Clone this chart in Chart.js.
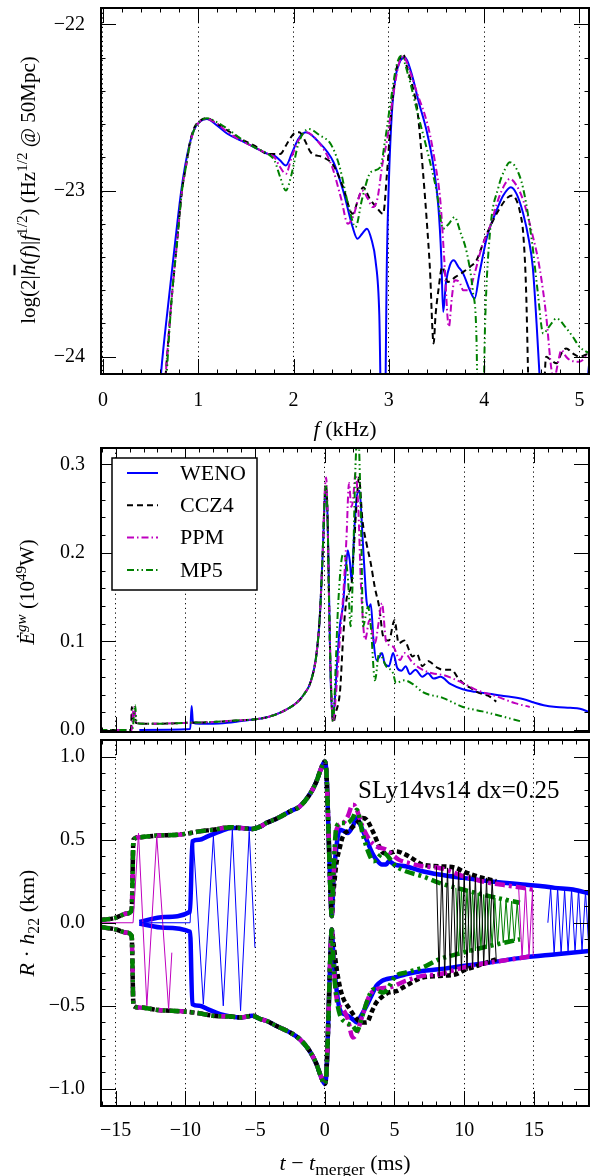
<!DOCTYPE html>
<html>
<head>
<meta charset="utf-8">
<script src="https://cdn.jsdelivr.net/npm/chart.js@4.4.1/dist/chart.umd.min.js"></script>
<style>
body { margin: 0; background: #fff; }
#wrap { position: relative; width: 590px; height: 1176px; font-family: "Liberation Serif", serif; color: #000; overflow: hidden; }
#wrap canvas { position: absolute; left: 0; }
.ttl { position: absolute; white-space: nowrap; font-size: 21px; line-height: 1; }
.rot { transform: translate(-50%, -50%) rotate(-90deg); }
.hor { transform: translate(-50%, -50%); }
sup, sub { font-size: 72%; line-height: 0; }
</style>
</head>
<body>
<div id="wrap">
  <canvas id="spec" width="590" height="440" style="top:0"></canvas>
  <canvas id="lum" width="590" height="296" style="top:440px"></canvas>
  <canvas id="strain" width="590" height="440" style="top:736px"></canvas>

  <div class="ttl rot" style="left:28px; top:190px">log(2|<span style="text-decoration:overline"><i>h</i></span>(<i>f</i>)|<i>f</i><sup>1/2</sup>) (Hz<sup>1/2</sup> @ 50Mpc)</div>
  <div class="ttl hor" style="left:345px; top:429px; font-size:22px"><i>f</i> (kHz)</div>
  <div class="ttl rot" style="left:27px; top:592px"><i>Ė</i><sup><i>gw</i></sup> (10<sup>49</sup>W)</div>
  <div class="ttl rot" style="left:27px; top:923px; font-size:22px"><i>R</i> · <i>h</i><sub>22</sub> (km)</div>
  <div class="ttl hor" style="left:345px; top:1163px; font-size:22px"><i>t</i> − <i>t</i><sub style="font-size:80%">merger</sub> (ms)</div>
  <div class="ttl" style="left:358px; top:777px; font-size:25px">SLy14vs14 dx=0.25</div>
</div>
<script>
// ---- tick values ----
const specTicksX = [0, 1, 2, 3, 4, 5];
const specTicksY = [-24, -23, -22];
const timeTicks = [-15, -10, -5, 0, 5, 10, 15];
const lumTicksY = [0, 0.1, 0.2, 0.3];
const strainTicksY = [-1, -0.5, 0, 0.5, 1];
const runNames = ['WENO', 'CCZ4', 'PPM', 'MP5'];

// ---- spectrum: [f (kHz), log amplitude] ----
const specWeno = [[0.55,-24.6],[0.61,-24.1],[0.69,-23.66],[0.76,-23.3],[0.82,-23.01],[0.86,-22.86],[0.91,-22.72],[0.96,-22.63],[1.02,-22.585],[1.09,-22.57],[1.2,-22.61],[1.31,-22.66],[1.45,-22.7],[1.59,-22.74],[1.73,-22.78],[1.8,-22.79],[1.86,-22.82],[1.92,-22.85],[1.98,-22.78],[2.05,-22.69],[2.13,-22.65],[2.25,-22.7],[2.42,-22.83],[2.52,-23.0],[2.62,-23.22],[2.67,-23.29],[2.72,-23.26],[2.77,-23.23],[2.82,-23.3],[2.86,-23.42],[2.9,-23.75],[2.925,-24.5],[2.955,-24.5],[2.98,-23.4],[3.0,-22.95],[3.03,-22.55],[3.07,-22.32],[3.12,-22.22],[3.17,-22.2],[3.24,-22.3],[3.31,-22.46],[3.4,-22.65],[3.47,-22.86],[3.52,-23.1],[3.55,-23.4],[3.57,-23.73],[3.6,-23.55],[3.64,-23.45],[3.68,-23.42],[3.73,-23.46],[3.78,-23.5],[3.85,-23.6],[3.9,-23.65],[3.95,-23.5],[4.03,-23.28],[4.13,-23.12],[4.2,-23.03],[4.28,-22.98],[4.34,-23.02],[4.41,-23.14],[4.47,-23.3],[4.51,-23.46],[4.55,-23.8],[4.58,-24.1],[4.62,-24.6],[5.0,-24.6],[5.06,-24.3],[5.1,-24.05]];
const specCcz4 = [[0.6,-24.6],[0.66,-24.1],[0.72,-23.66],[0.78,-23.3],[0.83,-23.0],[0.87,-22.86],[0.91,-22.72],[0.96,-22.62],[1.02,-22.58],[1.09,-22.565],[1.2,-22.6],[1.31,-22.64],[1.45,-22.69],[1.59,-22.73],[1.73,-22.78],[1.8,-22.78],[1.86,-22.78],[1.93,-22.72],[2.0,-22.66],[2.06,-22.65],[2.12,-22.7],[2.18,-22.77],[2.31,-22.8],[2.42,-22.85],[2.52,-22.98],[2.62,-23.14],[2.68,-23.05],[2.73,-22.98],[2.8,-23.05],[2.87,-23.1],[2.94,-23.14],[2.98,-22.9],[3.03,-22.5],[3.08,-22.27],[3.12,-22.2],[3.15,-22.18],[3.2,-22.28],[3.26,-22.4],[3.3,-22.52],[3.36,-22.9],[3.4,-23.2],[3.43,-23.46],[3.47,-23.92],[3.49,-23.75],[3.52,-23.6],[3.56,-23.46],[3.62,-23.55],[3.7,-23.52],[3.78,-23.49],[3.85,-23.46],[3.92,-23.42],[4.0,-23.3],[4.06,-23.22],[4.15,-23.12],[4.25,-23.04],[4.3,-23.03],[4.34,-23.06],[4.38,-23.14],[4.41,-23.26],[4.44,-23.6],[4.46,-24.08],[4.48,-24.6],[4.6,-24.6],[4.65,-24.0],[4.7,-24.02],[4.76,-24.04],[4.81,-23.98],[4.86,-23.95],[4.93,-23.98],[5.0,-24.0],[5.1,-23.98]];
const specPpm = [[0.6,-24.6],[0.66,-24.1],[0.72,-23.66],[0.78,-23.3],[0.83,-23.0],[0.87,-22.86],[0.91,-22.73],[0.96,-22.63],[1.02,-22.585],[1.09,-22.57],[1.2,-22.6],[1.31,-22.65],[1.45,-22.7],[1.59,-22.74],[1.73,-22.78],[1.8,-22.8],[1.86,-22.86],[1.92,-22.9],[1.98,-22.8],[2.05,-22.7],[2.13,-22.65],[2.25,-22.7],[2.4,-22.85],[2.5,-23.05],[2.57,-23.2],[2.63,-23.15],[2.68,-23.05],[2.72,-23.0],[2.78,-23.05],[2.83,-23.1],[2.88,-23.05],[2.93,-22.85],[2.98,-22.7],[3.04,-22.45],[3.1,-22.25],[3.15,-22.19],[3.22,-22.28],[3.3,-22.42],[3.38,-22.55],[3.43,-22.66],[3.49,-22.85],[3.54,-23.06],[3.58,-23.4],[3.63,-23.82],[3.66,-23.65],[3.69,-23.54],[3.74,-23.55],[3.78,-23.6],[3.84,-23.6],[3.9,-23.5],[3.97,-23.35],[4.06,-23.22],[4.15,-23.05],[4.22,-22.96],[4.27,-22.93],[4.34,-22.97],[4.41,-23.06],[4.5,-23.25],[4.58,-23.46],[4.65,-23.75],[4.7,-24.05],[4.73,-24.15],[4.77,-24.05],[4.81,-23.96],[4.86,-24.0],[4.9,-24.02],[5.0,-24.03],[5.1,-23.98]];
const specMp5 = [[0.62,-24.6],[0.67,-24.1],[0.72,-23.66],[0.78,-23.3],[0.83,-23.0],[0.87,-22.86],[0.91,-22.73],[0.96,-22.63],[1.02,-22.585],[1.09,-22.565],[1.2,-22.59],[1.31,-22.63],[1.45,-22.69],[1.59,-22.74],[1.73,-22.78],[1.8,-22.82],[1.86,-22.92],[1.92,-23.0],[1.98,-22.9],[2.05,-22.72],[2.16,-22.63],[2.28,-22.67],[2.39,-22.72],[2.48,-22.85],[2.58,-23.1],[2.65,-23.22],[2.72,-23.05],[2.81,-22.89],[2.91,-22.86],[2.96,-22.7],[3.02,-22.46],[3.08,-22.25],[3.13,-22.19],[3.2,-22.3],[3.3,-22.53],[3.42,-22.8],[3.5,-23.0],[3.57,-23.23],[3.63,-23.2],[3.69,-23.16],[3.75,-23.25],[3.82,-23.38],[3.88,-23.6],[3.92,-23.9],[3.94,-24.6],[3.98,-24.6],[4.01,-23.8],[4.06,-23.26],[4.15,-22.98],[4.22,-22.87],[4.27,-22.83],[4.34,-22.87],[4.41,-22.99],[4.5,-23.3],[4.56,-23.6],[4.62,-23.86],[4.68,-23.82],[4.76,-23.77],[4.85,-23.82],[4.93,-23.88],[5.0,-23.94],[5.1,-23.98]];

// ---- luminosity: [t (ms), 1e49 W] ----
const lumWeno = [[-13.3,0.0],[-9.65,0.001],[-9.55,0.027],[-9.45,0.008],[-9.0,0.007],[-8,0.007],[-7,0.008],[-6,0.01],[-5,0.012],[-4,0.015],[-3,0.021],[-2,0.031],[-1.5,0.04],[-1.0,0.055],[-0.6,0.085],[-0.35,0.13],[-0.15,0.2],[0.0,0.26],[0.1,0.27],[0.2,0.24],[0.3,0.16],[0.4,0.07],[0.55,0.012],[0.7,0.03],[0.9,0.08],[1.1,0.12],[1.3,0.14],[1.5,0.18],[1.65,0.203],[1.8,0.19],[1.93,0.168],[2.1,0.22],[2.3,0.264],[2.5,0.27],[2.7,0.22],[2.86,0.177],[3.0,0.145],[3.15,0.138],[3.3,0.142],[3.5,0.1],[3.7,0.079],[3.9,0.082],[4.1,0.087],[4.3,0.075],[4.6,0.072],[4.9,0.087],[5.2,0.07],[5.5,0.067],[5.8,0.072],[6.1,0.063],[6.5,0.068],[7.0,0.06],[7.4,0.064],[7.8,0.058],[8.3,0.06],[9.0,0.052],[9.9,0.046],[10.8,0.043],[11.8,0.041],[13.0,0.038],[14.2,0.035],[15.0,0.031],[15.7,0.028],[16.6,0.026],[17.6,0.025],[18.3,0.024],[19.0,0.02]];
const lumCcz4 = [[-16.1,0.0],[-13.9,0.0],[-13.84,0.026],[-13.75,0.012],[-13.65,0.02],[-13.55,0.008],[-13,0.007],[-12,0.007],[-10,0.008],[-8,0.009],[-6,0.011],[-5,0.012],[-4,0.015],[-3,0.021],[-2,0.031],[-1.5,0.04],[-1.0,0.055],[-0.6,0.085],[-0.35,0.13],[-0.15,0.2],[0.0,0.265],[0.1,0.275],[0.2,0.24],[0.3,0.15],[0.45,0.05],[0.6,0.008],[0.8,0.02],[1.1,0.045],[1.3,0.1],[1.5,0.14],[1.65,0.154],[1.9,0.162],[2.1,0.21],[2.3,0.26],[2.45,0.285],[2.7,0.237],[3.0,0.21],[3.3,0.188],[3.6,0.16],[3.9,0.139],[4.2,0.105],[4.6,0.101],[5.0,0.124],[5.3,0.098],[5.7,0.101],[6.3,0.083],[6.6,0.086],[7.0,0.072],[7.4,0.078],[7.7,0.075],[8.1,0.07],[8.5,0.068],[9.1,0.068],[9.5,0.06],[9.9,0.053],[10.4,0.048],[10.9,0.043],[11.4,0.04],[11.8,0.038],[12.3,0.032]];
const lumPpm = [[-16.1,0.0],[-13.85,0.0],[-13.75,0.02],[-13.65,0.026],[-13.55,0.008],[-13,0.007],[-12,0.007],[-10,0.008],[-8,0.009],[-6,0.011],[-5,0.012],[-4,0.015],[-3,0.021],[-2,0.031],[-1.5,0.04],[-1.0,0.055],[-0.6,0.085],[-0.35,0.13],[-0.15,0.2],[0.0,0.27],[0.1,0.285],[0.2,0.24],[0.3,0.15],[0.45,0.05],[0.6,0.01],[0.8,0.04],[1.07,0.1],[1.3,0.147],[1.55,0.215],[1.74,0.279],[1.9,0.252],[2.03,0.26],[2.2,0.29],[2.4,0.252],[2.6,0.162],[2.9,0.102],[3.2,0.124],[3.6,0.098],[3.85,0.12],[4.1,0.143],[4.4,0.1],[4.9,0.094],[5.4,0.079],[5.7,0.087],[6.3,0.076],[7.0,0.068],[7.7,0.064],[8.5,0.062],[9.2,0.058],[9.9,0.053],[10.9,0.045],[12.3,0.038],[13.7,0.03],[14.7,0.026]];
const lumMp5 = [[-16.1,0.0],[-13.8,0.0],[-13.6,0.028],[-13.5,0.008],[-13,0.007],[-12,0.007],[-10,0.008],[-8,0.009],[-6,0.011],[-5,0.012],[-4,0.015],[-3,0.021],[-2,0.031],[-1.5,0.04],[-1.0,0.055],[-0.6,0.085],[-0.35,0.13],[-0.15,0.2],[0.0,0.265],[0.1,0.275],[0.2,0.24],[0.3,0.15],[0.45,0.05],[0.6,0.01],[0.8,0.08],[0.95,0.139],[1.3,0.198],[1.45,0.196],[1.67,0.169],[1.85,0.117],[2.0,0.169],[2.2,0.297],[2.38,0.34],[2.6,0.233],[2.75,0.117],[2.95,0.13],[3.1,0.139],[3.3,0.117],[3.6,0.056],[3.9,0.087],[4.4,0.072],[4.9,0.064],[5.1,0.053],[5.7,0.056],[6.4,0.051],[7.0,0.043],[8.5,0.036],[9.9,0.026],[11.3,0.021],[12.8,0.015],[14.0,0.01]];

// ---- strain R*h22: [t (ms), km]; thick = amplitude envelope, thin = real part ----
const strainInspiralUp = [[-16.1,0.015],[-15,0.03],[-14.2,0.055],[-13.85,0.075],[-13.72,0.5],[-13.3,0.515],[-12,0.525],[-10.5,0.53],[-10,0.535],[-9,0.55],[-8,0.56],[-6.7,0.575],[-6,0.57],[-5.2,0.565],[-4.6,0.58],[-4.2,0.6],[-3.5,0.625],[-2.5,0.67],[-1.8,0.7],[-1.1,0.77],[-0.6,0.85],[-0.3,0.92],[0.0,0.97],[0.12,0.9],[0.25,0.6],[0.4,0.2],[0.5,0.04]];
const strainInspiralLow = [[-16.1,-0.025],[-15,-0.04],[-14.2,-0.06],[-13.85,-0.08],[-13.72,-0.5],[-13.3,-0.51],[-12,-0.525],[-10,-0.535],[-9,-0.545],[-8,-0.56],[-6.7,-0.565],[-6,-0.57],[-5.2,-0.56],[-4.6,-0.58],[-4.2,-0.59],[-3.5,-0.62],[-2.5,-0.66],[-1.8,-0.7],[-1.1,-0.77],[-0.6,-0.85],[-0.3,-0.92],[0.0,-0.97],[0.12,-0.9],[0.25,-0.6],[0.4,-0.2],[0.5,-0.04]];
const strainWenoUp = [[-13.3,0.005],[-11.5,0.035],[-9.66,0.066],[-9.5,0.49],[-9.0,0.5],[-8.4,0.52],[-7.5,0.55],[-6.7,0.57],[-6.0,0.57],[-5.2,0.565],[-4.6,0.58],[-4.2,0.6],[-3.5,0.625],[-2.5,0.67],[-1.8,0.7],[-1.1,0.77],[-0.6,0.85],[-0.3,0.92],[0.0,0.97],[0.12,0.9],[0.25,0.6],[0.4,0.2],[0.5,0.04],[0.62,0.25],[0.84,0.46],[1.07,0.56],[1.4,0.55],[1.65,0.54],[2.0,0.58],[2.3,0.63],[2.6,0.58],[3.0,0.5],[3.4,0.42],[3.7,0.38],[4.1,0.35],[4.4,0.35],[4.6,0.37],[5.0,0.35],[5.8,0.34],[7.0,0.31],[8.2,0.29],[9.9,0.27],[11.8,0.25],[14.2,0.23],[15.6,0.22],[16.5,0.21],[17.8,0.2],[19.0,0.175]];
const strainWenoLow = [[-13.3,-0.005],[-11.5,-0.03],[-9.66,-0.054],[-9.5,-0.49],[-9.0,-0.5],[-8.4,-0.52],[-7.5,-0.55],[-6.7,-0.565],[-6.0,-0.57],[-5.2,-0.56],[-4.6,-0.58],[-4.2,-0.59],[-3.5,-0.62],[-2.5,-0.66],[-1.8,-0.7],[-1.1,-0.77],[-0.6,-0.85],[-0.3,-0.92],[0.0,-0.97],[0.12,-0.9],[0.25,-0.6],[0.4,-0.2],[0.5,-0.04],[0.62,-0.2],[0.84,-0.4],[1.07,-0.52],[1.4,-0.55],[1.65,-0.56],[2.0,-0.58],[2.3,-0.6],[2.6,-0.56],[3.0,-0.5],[3.4,-0.43],[3.7,-0.38],[4.1,-0.35],[4.4,-0.34],[5.0,-0.33],[5.8,-0.31],[7.0,-0.29],[8.2,-0.28],[9.9,-0.26],[11.8,-0.24],[14.2,-0.21],[16.6,-0.19],[19.0,-0.17]];
const strainWenoRe = [[-13.3,0.0],[-9.66,0.0],[-9.43,0.5],[-8.71,-0.49],[-7.99,0.52],[-7.28,-0.5],[-6.63,0.56],[-6.04,-0.53],[-5.42,0.55],[-5.01,-0.15],[10,null],[16.0,0.0],[16.2,0.21],[16.45,-0.19],[16.7,0.21],[16.95,-0.19],[17.2,0.2],[17.45,-0.18],[17.7,0.2],[17.95,-0.18],[18.2,0.2],[18.45,-0.17],[18.7,0.19],[18.95,-0.17]];
const strainCcz4TailUp = [[0.62,0.18],[0.84,0.36],[1.07,0.45],[1.3,0.52],[1.8,0.56],[2.3,0.6],[2.7,0.63],[3.0,0.62],[3.5,0.54],[3.9,0.46],[4.2,0.42],[4.6,0.42],[5.1,0.43],[5.8,0.41],[6.4,0.38],[7.0,0.35],[8.2,0.34],[9.4,0.33],[9.9,0.31],[10.9,0.28],[12.3,0.25]];
const strainCcz4TailLow = [[0.62,-0.12],[0.84,-0.27],[1.07,-0.38],[1.3,-0.45],[1.8,-0.52],[2.3,-0.58],[2.7,-0.6],[3.0,-0.6],[3.4,-0.53],[3.7,-0.48],[4.2,-0.44],[4.6,-0.42],[5.2,-0.41],[5.8,-0.38],[7.0,-0.33],[8.2,-0.32],[9.4,-0.31],[9.9,-0.29],[10.9,-0.26],[12.3,-0.22]];
const strainCcz4Re = [[8.0,0.34],[8.2,-0.32],[8.4,0.34],[8.6,-0.32],[8.8,0.33],[9.0,-0.31],[9.2,0.33],[9.4,-0.3],[9.6,0.32],[9.8,-0.29],[10.0,0.3],[10.2,-0.29],[10.4,0.29],[10.6,-0.28],[10.8,0.28],[11.0,-0.27],[11.2,0.27],[11.4,-0.26],[11.6,0.27],[11.8,-0.25],[12.0,0.26],[12.3,-0.23]];
const strainPpmTailUp = [[0.62,0.25],[0.84,0.56],[1.3,0.6],[1.65,0.64],[2.0,0.71],[2.2,0.7],[2.7,0.58],[3.2,0.5],[3.7,0.46],[4.4,0.44],[5.3,0.38],[6.0,0.36],[7.0,0.34],[8.2,0.33],[9.0,0.31],[9.9,0.28],[10.8,0.26],[11.8,0.24],[13.0,0.225],[14.2,0.21],[14.9,0.2]];
const strainPpmTailLow = [[0.62,-0.22],[0.84,-0.45],[1.3,-0.52],[1.65,-0.58],[2.0,-0.69],[2.2,-0.68],[2.7,-0.56],[3.2,-0.44],[3.7,-0.4],[4.6,-0.39],[5.8,-0.35],[7.0,-0.32],[8.2,-0.31],[9.9,-0.27],[11.8,-0.24],[14.2,-0.21],[14.9,-0.2]];
const strainPpmRe = [[-16.1,0.0],[-13.75,0.0],[-13.36,0.54],[-12.76,-0.5],[-12.05,0.52],[-11.2,-0.52],[-10.97,-0.18],[0,null],[13.9,0.22],[14.15,-0.21],[14.4,0.21],[14.65,-0.2],[14.9,0.2],[14.95,-0.2]];
const strainMp5TailUp = [[0.62,0.3],[0.84,0.58],[1.2,0.6],[1.6,0.6],[2.0,0.63],[2.3,0.68],[2.7,0.54],[3.1,0.43],[3.5,0.37],[4.2,0.42],[5.1,0.34],[5.8,0.31],[7.0,0.28],[8.2,0.24],[9.9,0.2],[11.8,0.16],[14.0,0.12]];
const strainMp5TailLow = [[0.62,-0.25],[0.84,-0.45],[1.07,-0.55],[1.5,-0.6],[2.0,-0.62],[2.3,-0.65],[2.7,-0.56],[3.0,-0.48],[3.5,-0.4],[4.2,-0.42],[5.1,-0.32],[5.8,-0.3],[7.0,-0.27],[8.2,-0.22],[9.9,-0.18],[11.8,-0.14],[14.0,-0.1]];
const strainMp5Re = [[9.4,0.21],[9.6,-0.19],[9.8,0.2],[10.0,-0.18],[10.2,0.2],[10.4,-0.18],[10.6,0.19],[10.8,-0.17],[11.0,0.18],[11.2,-0.16],[11.4,0.17],[11.6,-0.15],[11.8,0.16],[12.0,-0.14],[12.2,0.15],[12.4,-0.13],[12.6,0.14],[12.8,-0.12],[13.0,0.14],[13.2,-0.12],[13.4,0.13],[13.6,-0.11],[13.8,0.12],[14.0,-0.1]];

// ---- styles ----
const runColors = ['#0000ff', '#000000', '#bf00bf', '#008000'];
const thinDash = [[], [6, 4], [7, 3, 1.5, 3], [7, 3, 1.5, 3, 1.5, 3]];
const thickDash = [[], [5, 3], [10, 4, 3, 4], [10, 4, 3, 4, 3, 4]];
const FONT = '"Liberation Serif", serif';

function pts(arr) {
    return arr.map(function (p) { return { x: p[0], y: p[1] }; });
}
function fmt(v, d) {
    return (v < 0 ? '\u2212' : '') + Math.abs(v).toFixed(d);
}
function line(label, data, i, width, dash, smooth, order) {
    return {
        label: label,
        data: pts(data),
        borderColor: runColors[i],
        backgroundColor: runColors[i],
        borderWidth: width,
        borderDash: dash,
        borderCapStyle: 'butt',
        pointRadius: 0,
        fill: false,
        tension: 0,
        cubicInterpolationMode: smooth ? 'monotone' : 'default',
        order: order
    };
}

// frame with inward ticks on all four sides
const frameTicks = {
    id: 'frameTicks',
    afterDraw(chart, args, o) {
        const ctx = chart.ctx;
        const a = chart.chartArea;
        const sx = chart.scales.x, sy = chart.scales.y;
        ctx.save();
        ctx.strokeStyle = '#000';
        ctx.lineWidth = 1;
        ctx.beginPath();
        const xs = function (v, len) {
            const p = Math.round(sx.getPixelForValue(v)) + 0.5;
            if (p <= a.left + 1 || p >= a.right - 1) return;
            ctx.moveTo(p, a.bottom); ctx.lineTo(p, a.bottom - len);
            ctx.moveTo(p, a.top); ctx.lineTo(p, a.top + len);
        };
        const ys = function (v, len) {
            const p = Math.round(sy.getPixelForValue(v)) + 0.5;
            if (p <= a.top + 1 || p >= a.bottom - 1) return;
            ctx.moveTo(a.left, p); ctx.lineTo(a.left + len, p);
            ctx.moveTo(a.right, p); ctx.lineTo(a.right - len, p);
        };
        for (let v = Math.ceil(sx.min / o.xMinor) * o.xMinor; v <= sx.max; v += o.xMinor) xs(v, 4.5);
        for (let v = Math.ceil(sy.min / o.yMinor) * o.yMinor; v <= sy.max; v += o.yMinor) ys(v, 4.5);
        o.xMajor.forEach(function (v) { xs(v, 15); });
        o.yMajor.forEach(function (v) { ys(v, 15); });
        ctx.stroke();
        ctx.lineWidth = 2;
        ctx.strokeRect(a.left, a.top, a.right - a.left, a.bottom - a.top);
        ctx.restore();
    }
};

// boxed legend in the upper left of the luminosity panel
const legendBox = {
    id: 'legendBox',
    afterDraw(chart) {
        const ctx = chart.ctx;
        const a = chart.chartArea;
        const x0 = a.left + 11, y0 = a.top + 10, w = 145, h = 132;
        ctx.save();
        ctx.fillStyle = '#fff';
        ctx.fillRect(x0, y0, w, h);
        ctx.lineWidth = 1.5;
        ctx.strokeStyle = '#000';
        ctx.strokeRect(x0, y0, w, h);
        chart.data.datasets.forEach(function (ds, i) {
            const yy = y0 + 15 + i * 32.3;
            ctx.beginPath();
            ctx.setLineDash(ds.borderDash || []);
            ctx.strokeStyle = ds.borderColor;
            ctx.lineWidth = ds.borderWidth;
            ctx.moveTo(x0 + 15, yy);
            ctx.lineTo(x0 + 46, yy);
            ctx.stroke();
            ctx.setLineDash([]);
            ctx.fillStyle = '#000';
            ctx.font = '22px ' + FONT;
            ctx.textBaseline = 'middle';
            ctx.fillText(ds.label, x0 + 68, yy + 1);
        });
        ctx.restore();
    }
};

function xScale(min, max, ticks, showLabels, height, pad) {
    return {
        type: 'linear', min: min, max: max,
        afterBuildTicks: function (s) { s.ticks = ticks.map(function (v) { return { value: v }; }); },
        afterFit: function (s) { s.height = height; s.paddingLeft = 0; s.paddingRight = 0; s.paddingTop = 0; s.paddingBottom = 0; },
        grid: { display: true, drawTicks: false, color: '#000', lineWidth: 1 },
        border: { display: false, dash: [1.2, 3.5] },
        ticks: {
            display: showLabels, autoSkip: false, maxRotation: 0, padding: pad,
            color: '#000', font: { family: FONT, size: 20 },
            callback: function (v) { return fmt(v, 0); }
        }
    };
}
function yScale(min, max, ticks, dec) {
    return {
        type: 'linear', min: min, max: max,
        afterBuildTicks: function (s) { s.ticks = ticks.map(function (v) { return { value: v }; }); },
        afterFit: function (s) { s.width = 101; s.paddingLeft = 0; s.paddingRight = 0; s.paddingTop = 0; s.paddingBottom = 0; },
        grid: { display: false, drawTicks: false },
        border: { display: false },
        ticks: {
            autoSkip: false, padding: 16, color: '#000', font: { family: FONT, size: 20 },
            callback: function (v) { return fmt(v, dec); }
        }
    };
}
function baseOptions(padding, scales, frame) {
    return {
        responsive: false, animation: false, devicePixelRatio: 1,
        layout: { padding: padding },
        plugins: { legend: { display: false }, tooltip: { enabled: false }, frameTicks: frame },
        scales: scales
    };
}

// ---- panel 1: spectrum ----
new Chart(document.getElementById('spec'), {
    type: 'line',
    data: {
        datasets: [
            line(runNames[0], specWeno, 0, 2, thinDash[0], true, 4),
            line(runNames[1], specCcz4, 1, 2, thinDash[1], true, 3),
            line(runNames[2], specPpm, 2, 2, thinDash[2], true, 2),
            line(runNames[3], specMp5, 3, 2, thinDash[3], true, 1)
        ]
    },
    options: baseOptions({ top: 8, right: 1, left: 0, bottom: 0 }, {
        x: xScale(-0.02, 5.1, specTicksX, true, 66, 15),
        y: yScale(-24.104, -21.902, specTicksY, 0)
    }, { xMajor: specTicksX, xMinor: 0.2, yMajor: specTicksY, yMinor: 0.2 }),
    plugins: [frameTicks]
});

// ---- panel 2: luminosity ----
new Chart(document.getElementById('lum'), {
    type: 'line',
    data: {
        datasets: [
            line(runNames[0], lumWeno, 0, 2, thinDash[0], true, 4),
            line(runNames[1], lumCcz4, 1, 2, thinDash[1], true, 3),
            line(runNames[2], lumPpm, 2, 2, thinDash[2], true, 2),
            line(runNames[3], lumMp5, 3, 2, thinDash[3], true, 1)
        ]
    },
    options: baseOptions({ top: 8, right: 1, left: 0, bottom: 4 }, {
        x: xScale(-16.05, 18.95, timeTicks, false, 0, 0),
        y: yScale(-0.0023, 0.3184, lumTicksY, 1)
    }, { xMajor: timeTicks, xMinor: 1, yMajor: lumTicksY, yMinor: 0.02 }),
    plugins: [frameTicks, legendBox]
});

// ---- panel 3: strain ----
new Chart(document.getElementById('strain'), {
    type: 'line',
    data: {
        datasets: [
            line(runNames[0], strainWenoUp, 0, 4.5, thickDash[0], true, 8),
            line(runNames[0], strainWenoLow, 0, 4.5, thickDash[0], true, 8),
            line(runNames[1], strainInspiralUp.concat(strainCcz4TailUp), 1, 4.5, thickDash[1], true, 7),
            line(runNames[1], strainInspiralLow.concat(strainCcz4TailLow), 1, 4.5, thickDash[1], true, 7),
            line(runNames[2], strainInspiralUp.concat(strainPpmTailUp), 2, 4.5, thickDash[2], true, 6),
            line(runNames[2], strainInspiralLow.concat(strainPpmTailLow), 2, 4.5, thickDash[2], true, 6),
            line(runNames[3], strainInspiralUp.concat(strainMp5TailUp), 3, 4.5, thickDash[3], true, 5),
            line(runNames[3], strainInspiralLow.concat(strainMp5TailLow), 3, 4.5, thickDash[3], true, 5),
            line(runNames[0], strainWenoRe, 0, 1, [], false, 1),
            line(runNames[1], strainCcz4Re, 1, 1, [], false, 1),
            line(runNames[2], strainPpmRe, 2, 1, [], false, 1),
            line(runNames[3], strainMp5Re, 3, 1, [], false, 1)
        ]
    },
    options: baseOptions({ top: 4, right: 1, left: 0, bottom: 0 }, {
        x: xScale(-16.05, 18.95, timeTicks, true, 70, 13),
        y: yScale(-1.103, 1.1, strainTicksY, 1)
    }, { xMajor: timeTicks, xMinor: 1, yMajor: strainTicksY, yMinor: 0.1 }),
    plugins: [frameTicks]
});
</script>
</body>
</html>
